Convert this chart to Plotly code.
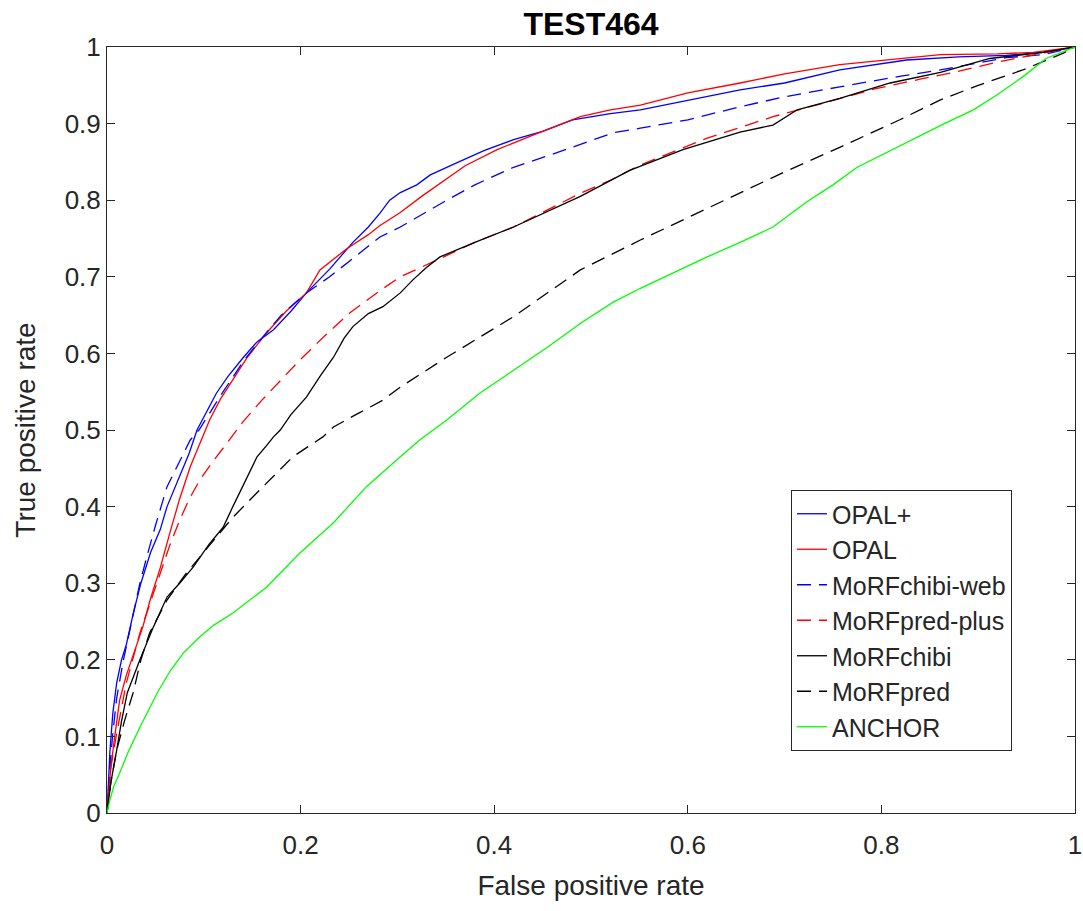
import plotly.graph_objects as go

# ---------------- data ----------------
opal_plus_fpr = [0, 0.003, 0.006, 0.01, 0.015, 0.02, 0.027, 0.035, 0.045, 0.055, 0.062, 0.075, 0.085, 0.093,
                 0.103, 0.113, 0.125, 0.141, 0.155, 0.172, 0.19, 0.206, 0.23, 0.254, 0.27, 0.282, 0.292, 0.303,
                 0.32, 0.334, 0.36, 0.39, 0.42, 0.45, 0.481, 0.52, 0.551, 0.6, 0.654, 0.7, 0.757, 0.826, 0.88,
                 0.929, 0.967, 1.0]
opal_plus_tpr = [0, 0.08, 0.13, 0.17, 0.2, 0.22, 0.26, 0.3, 0.34, 0.37, 0.40, 0.44, 0.47, 0.50,
                 0.525, 0.548, 0.57, 0.595, 0.615, 0.631, 0.655, 0.679, 0.71, 0.745, 0.765, 0.783, 0.80, 0.81,
                 0.82, 0.833, 0.848, 0.865, 0.879, 0.89, 0.905, 0.913, 0.918, 0.93, 0.944, 0.953, 0.97, 0.983, 0.987,
                 0.989, 0.993, 1.0]

opal_fpr = [0, 0.004, 0.008, 0.013, 0.02, 0.028, 0.037, 0.045, 0.055, 0.065, 0.075, 0.086, 0.099, 0.106,
            0.117, 0.13, 0.145, 0.165, 0.185, 0.206, 0.22, 0.248, 0.27, 0.282, 0.303, 0.325, 0.344, 0.37,
            0.403, 0.44, 0.489, 0.52, 0.551, 0.6, 0.654, 0.7, 0.757, 0.8, 0.861, 0.92, 0.957, 1.0]
opal_tpr = [0, 0.06, 0.1, 0.147, 0.18, 0.21, 0.243, 0.28, 0.32, 0.366, 0.41, 0.452, 0.491, 0.513,
            0.54, 0.565, 0.595, 0.627, 0.655, 0.679, 0.709, 0.737, 0.755, 0.767, 0.784, 0.805, 0.822, 0.845,
            0.866, 0.885, 0.909, 0.918, 0.924, 0.94, 0.953, 0.965, 0.977, 0.982, 0.99, 0.991, 0.993, 1.0]

chibiweb_fpr = [0, 0.003, 0.006, 0.01, 0.017, 0.022, 0.027, 0.034, 0.041, 0.05, 0.062, 0.072, 0.08, 0.086,
                0.095, 0.105, 0.12, 0.141, 0.16, 0.18, 0.206, 0.23, 0.25, 0.268, 0.282, 0.303, 0.33, 0.351,
                0.38, 0.42, 0.46, 0.523, 0.551, 0.6, 0.654, 0.7, 0.757, 0.82, 0.861, 0.929, 0.967, 1.0]
chibiweb_tpr = [0, 0.06, 0.104, 0.15, 0.2, 0.23, 0.256, 0.3, 0.334, 0.375, 0.426, 0.452, 0.473, 0.487,
                0.5, 0.52, 0.55, 0.59, 0.62, 0.65, 0.679, 0.70, 0.72, 0.739, 0.752, 0.765, 0.785, 0.80,
                0.82, 0.843, 0.86, 0.888, 0.894, 0.905, 0.922, 0.935, 0.948, 0.962, 0.97, 0.986, 0.99, 1.0]

predplus_fpr = [0, 0.004, 0.01, 0.02, 0.034, 0.045, 0.055, 0.065, 0.075, 0.085, 0.096, 0.11, 0.124, 0.14,
                0.16, 0.18, 0.199, 0.225, 0.251, 0.282, 0.303, 0.341, 0.38, 0.42, 0.455, 0.489, 0.52, 0.551,
                0.62, 0.688, 0.744, 0.792, 0.84, 0.875, 0.926, 1.0]
predplus_tpr = [0, 0.06, 0.104, 0.17, 0.235, 0.275, 0.313, 0.35, 0.382, 0.41, 0.435, 0.46, 0.483, 0.51,
                0.539, 0.566, 0.591, 0.623, 0.653, 0.682, 0.70, 0.722, 0.745, 0.765, 0.787, 0.809, 0.826, 0.846,
                0.881, 0.909, 0.928, 0.945, 0.958, 0.967, 0.982, 1.0]

chibi_fpr = [0, 0.004, 0.01, 0.015, 0.021, 0.034, 0.048, 0.062, 0.075, 0.089, 0.105, 0.12, 0.13, 0.137,
             0.146, 0.155, 0.165, 0.172, 0.179, 0.19, 0.206, 0.22, 0.234, 0.245, 0.254, 0.27, 0.285, 0.303,
             0.316, 0.33, 0.344, 0.38, 0.42, 0.455, 0.489, 0.54, 0.595, 0.654, 0.688, 0.713, 0.757, 0.809,
             0.861, 0.912, 0.967, 1.0]
chibi_tpr = [0, 0.04, 0.082, 0.12, 0.157, 0.2, 0.243, 0.282, 0.30, 0.321, 0.35, 0.373, 0.40, 0.418,
             0.44, 0.465, 0.48, 0.491, 0.5, 0.52, 0.543, 0.57, 0.595, 0.62, 0.635, 0.652, 0.661, 0.679,
             0.696, 0.712, 0.726, 0.745, 0.765, 0.785, 0.805, 0.839, 0.866, 0.889, 0.898, 0.918, 0.933, 0.953,
             0.967, 0.985, 0.993, 1.0]

pred_fpr = [0, 0.004, 0.01, 0.018, 0.027, 0.035, 0.044, 0.052, 0.062, 0.08, 0.096, 0.113, 0.13, 0.158,
            0.192, 0.223, 0.234, 0.26, 0.285, 0.303, 0.351, 0.42, 0.489, 0.551, 0.613, 0.654, 0.7, 0.757,
            0.819, 0.861, 0.9, 0.946, 0.988, 1.0]
pred_tpr = [0, 0.04, 0.082, 0.12, 0.157, 0.2, 0.235, 0.255, 0.278, 0.31, 0.334, 0.36, 0.386, 0.422,
            0.465, 0.491, 0.504, 0.522, 0.539, 0.556, 0.595, 0.648, 0.709, 0.748, 0.785, 0.809, 0.837, 0.869,
            0.905, 0.931, 0.95, 0.97, 0.992, 1.0]

anchor_fpr = [0, 0.003, 0.007, 0.013, 0.022, 0.034, 0.052, 0.065, 0.079, 0.096, 0.11, 0.13, 0.165, 0.199,
              0.234, 0.268, 0.303, 0.323, 0.351, 0.385, 0.42, 0.455, 0.49, 0.523, 0.551, 0.592, 0.62, 0.654,
              0.688, 0.723, 0.75, 0.775, 0.805, 0.837, 0.865, 0.895, 0.92, 0.946, 0.97, 1.0]
anchor_tpr = [0, 0.017, 0.035, 0.052, 0.08, 0.112, 0.157, 0.185, 0.209, 0.23, 0.245, 0.261, 0.295, 0.339,
              0.379, 0.426, 0.465, 0.487, 0.513, 0.548, 0.578, 0.608, 0.64, 0.667, 0.685, 0.71, 0.726, 0.745,
              0.765, 0.798, 0.82, 0.843, 0.862, 0.883, 0.9, 0.918, 0.938, 0.961, 0.985, 1.0]

series_names = ["OPAL+", "OPAL", "MoRFchibi-web", "MoRFpred-plus", "MoRFchibi", "MoRFpred", "ANCHOR"]
series_fpr = [opal_plus_fpr, opal_fpr, chibiweb_fpr, predplus_fpr, chibi_fpr, pred_fpr, anchor_fpr]
series_tpr = [opal_plus_tpr, opal_tpr, chibiweb_tpr, predplus_tpr, chibi_tpr, pred_tpr, anchor_tpr]
series_colors = ["#0000ff", "#ff0000", "#0000ff", "#ff0000", "#000000", "#000000", "#00ff00"]
series_dash = ["solid", "solid", "14px,8px", "14px,8px", "solid", "14px,8px", "solid"]

x_ticks = [0, 0.2, 0.4, 0.6, 0.8, 1]
y_ticks = [0, 0.1, 0.2, 0.3, 0.4, 0.5, 0.6, 0.7, 0.8, 0.9, 1]

FONT = "Liberation Sans, Arial, sans-serif"
AX = "#262626"

fig = go.Figure()
for name, xs, ys, col, dsh in zip(series_names, series_fpr, series_tpr, series_colors, series_dash):
    fig.add_trace(go.Scatter(x=xs, y=ys, mode="lines", name=name,
                             line=dict(color=col, width=1.3, dash=dsh)))

W, H = 1083, 911
L, R, T, B = 107, 8, 47, 98

axis_common = dict(
    range=[0, 1], showline=True, linecolor=AX, linewidth=1, mirror="ticks",
    ticks="inside", ticklen=8, tickwidth=1, tickcolor=AX, showgrid=False, zeroline=False,
    tickfont=dict(family=FONT, size=26, color=AX), automargin=False,
)

fig.update_layout(
    width=W, height=H,
    margin=dict(l=L, r=R, t=T, b=B, autoexpand=False),
    paper_bgcolor="white", plot_bgcolor="white",
    title=dict(text="<b>TEST464</b>", x=(L + (W - L - R) / 2) / W, xanchor="center",
               y=1 - 13 / H, yanchor="top", pad=dict(t=0, b=0),
               font=dict(family=FONT, size=32, color="black")),
    xaxis=dict(**axis_common, tickvals=x_ticks, ticktext=[f"{v:g}" for v in x_ticks],
               ticklabelstandoff=9,
               title=dict(text="False positive rate", font=dict(family=FONT, size=28, color=AX), standoff=16)),
    yaxis=dict(**axis_common, tickvals=y_ticks, ticktext=[f"{v:g}" for v in y_ticks],
               title=dict(text="True positive rate", font=dict(family=FONT, size=28, color=AX), standoff=20)),
    legend=dict(x=(1012 - L) / (W - L - R), xanchor="right", y=(H - B - 490) / (H - T - B), yanchor="top",
                bgcolor="white", bordercolor=AX, borderwidth=1,
                font=dict(family=FONT, size=25, color=AX)),
    showlegend=True,
)

# remove the default 8px page margin so the figure fills the window exactly
fig.write_html("out.html", config={"displayModeBar": False},
               post_script="document.body.style.margin='0px';")
